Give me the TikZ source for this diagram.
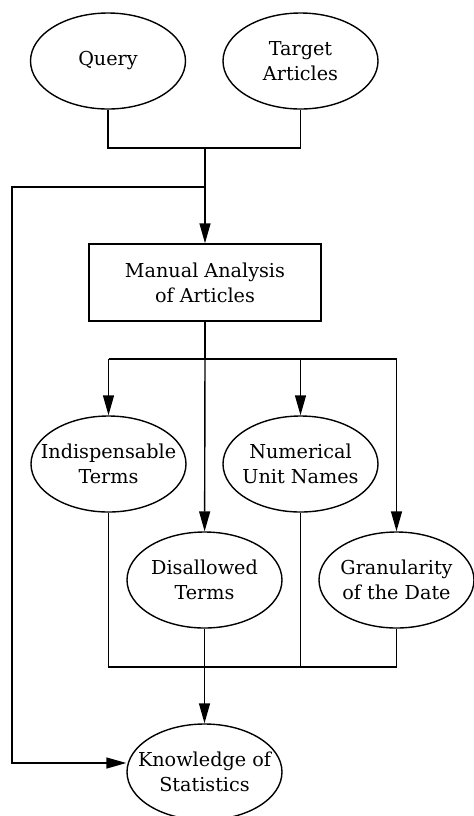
\documentclass[tikz,border=0pt]{standalone}
\usepackage{fontspec}
\setmainfont{DejaVu Serif}
\usepackage{tikz}
\usetikzlibrary{shapes.geometric}
\usetikzlibrary{arrows.meta}
\usetikzlibrary{positioning}
\tikzstyle{caption}=[align=center, inner sep=0pt, font=\fontsize{9.6}{12.5}\selectfont]
\tikzstyle{oval}=[ellipse, draw=black, line width=0.7pt, minimum width=77.5pt, minimum height=48pt, inner sep=0pt]
\tikzstyle{process}=[rectangle, draw=black, line width=0.7pt, minimum width=116pt, minimum height=38.5pt, inner sep=0pt, caption]
\tikzstyle{link}=[draw=black, line width=0.7pt]
\tikzstyle{flow}=[link, -{Triangle[length=10pt,width=5.5pt]}]

\begin{document}
\begin{tikzpicture}[x=0.5pt, y=-0.5pt]
              \useasboundingbox (0,0) rectangle (473,816);
              \node[oval, label={[caption]center:Query}] (query) at (108,61){};
              \node[oval, label={[caption]center:Target\\Articles}] (target) at (300.5,61){};
              \node[process] (manual) at (205,282.5){Manual Analysis\\of Articles};
              \node[oval, label={[caption]center:Indispensable\\Terms}] (indisp) at (108.5,464){};
              \node[oval, label={[caption]center:Numerical\\Unit Names}] (numer) at (300.5,464){};
              \node[oval, label={[caption]center:Disallowed\\Terms}] (disal) at (204.5,580){};
              \node[oval, label={[caption]center:Granularity\\of the Date}] (gran) at (396.5,580){};
              \node[oval, label={[caption]center:Knowledge of\\Statistics}] (know) at (204.5,772){};
              \coordinate (join) at (205,148);
              \coordinate (fork) at (205,187);
              \coordinate (lefttop) at (12,187);
              \coordinate (leftbot) at (12,763);
              \coordinate (split) at (205,359);
              \coordinate (merge) at (205,667);
              \draw[link](query) -- (query |- join) -- (target |- join) -- (target);
              \draw[flow](join) -- (manual);
              \draw[flow](fork) -- (lefttop) -- (leftbot) -- (know.west |- leftbot);
              \draw[link](manual) -- (split);
              \draw[link](indisp |- split) -- (gran |- split);
              \draw[flow](indisp |- split) -- (indisp);
              \draw[flow](numer |- split) -- (numer);
              \draw[flow](split) -- (disal);
              \draw[flow](gran |- split) -- (gran);
              \draw[link](indisp) -- (indisp |- merge) -- (gran |- merge) -- (gran);
              \draw[link](numer) -- (numer |- merge);
              \draw[flow](disal) -- (know);
            \end{tikzpicture}
\end{document}
